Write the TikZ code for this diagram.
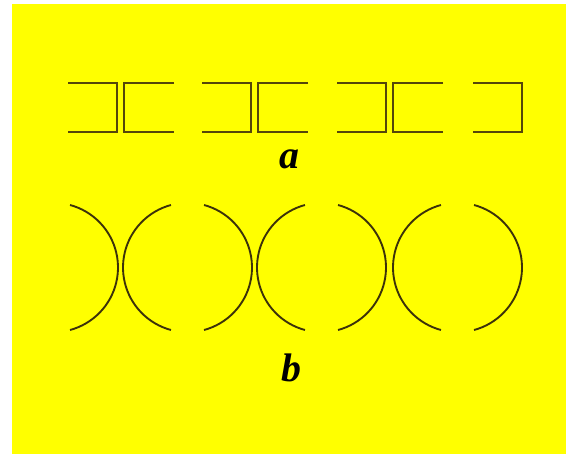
\documentclass[tikz,border=0pt]{standalone}
\usepackage{fontspec}
\setmainfont{Liberation Serif}
\definecolor{bgyellow}{RGB}{255,255,0}
\definecolor{inkline}{RGB}{85,70,10}
\definecolor{inkarc}{RGB}{60,50,10}
\tikzset{
  bracket/.style={draw=inkline, line width=1.6pt, line join=miter},
  wave/.style={draw=inkarc, line width=1.6pt},
  lbl/.style={font=\fontsize{34}{36}\selectfont\bfseries\itshape, text=black, inner sep=0pt}
}
\begin{document}
\begin{tikzpicture}[x=0.03cm, y=-0.03cm]
\useasboundingbox (0,0) rectangle (566,454);
\fill[white] (0,0) rectangle (566,454);
\fill[bgyellow] (12,4) rectangle (566,454);
% row a: brackets
\foreach \dx in {0,134,269,405}{
  \draw[bracket] (68+\dx,83) -- (117+\dx,83) -- (117+\dx,132) -- (68+\dx,132);
}
\foreach \dx in {0,134,269}{
  \draw[bracket] (174+\dx,83) -- (124+\dx,83) -- (124+\dx,132) -- (174+\dx,132);
}
% row b: arcs
\foreach \dx in {0,134,268,404}{
  \draw[wave] plot[domain=-75:75, samples=40, smooth] ({53.3+\dx+64.7*cos(\x)},{267.5+64.7*sin(\x)});
}
\foreach \dx in {0,134,270}{
  \draw[wave] plot[domain=-75:75, samples=40, smooth] ({187.7+\dx-64.7*cos(\x)},{267.5+64.7*sin(\x)});
}
\node[lbl] (la) at (289,159) {a};
\node[lbl] (lb) at (291,368) {b};
\end{tikzpicture}
\end{document}
